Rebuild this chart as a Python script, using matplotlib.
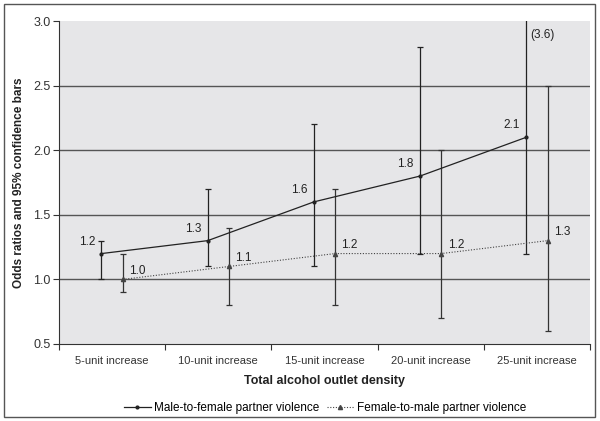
import matplotlib
matplotlib.use("Agg")
import matplotlib.pyplot as plt
import numpy as np
from matplotlib.patches import Rectangle

plt.rcParams['font.family'] = ['Liberation Sans', 'DejaVu Sans']

categories = ["5-unit increase", "10-unit increase", "15-unit increase", "20-unit increase", "25-unit increase"]
male_or = [1.2, 1.3, 1.6, 1.8, 2.1]
male_lo = [1.0, 1.1, 1.1, 1.2, 1.2]
male_hi = [1.3, 1.7, 2.2, 2.8, 3.6]
female_or = [1.0, 1.1, 1.2, 1.2, 1.3]
female_lo = [0.9, 0.8, 0.8, 0.7, 0.6]
female_hi = [1.2, 1.4, 1.7, 2.0, 2.5]
male_label = "Male-to-female partner violence"
female_label = "Female-to-male partner violence"

fig = plt.figure(figsize=(6.0, 4.21), dpi=100)
fig.patches.append(Rectangle((4/600, 4/421), 591/600, 413/421, transform=fig.transFigure,
                             fill=False, edgecolor='#555555', linewidth=1.0))
ax = fig.add_axes([59/600, 77/421, 531/600, 323/421])
ax.set_facecolor('#e6e6e8')

x = np.arange(len(categories))
xm = x - 0.1
xf = x + 0.1
ax.set_xlim(-0.5, len(categories) - 0.5)
ax.set_ylim(0.5, 3.0)

for yv in [1.0, 1.5, 2.0, 2.5]:
    ax.axhline(yv, color='#555555', linewidth=1.0, zorder=1)

dark = '#222222'
m = np.array(male_or); f = np.array(female_or)
ax.errorbar(xm, m, yerr=[m - np.array(male_lo), np.array(male_hi) - m], fmt='none',
            ecolor=dark, elinewidth=0.9, capsize=2.5, capthick=0.9, zorder=2)
ax.errorbar(xf, f, yerr=[f - np.array(female_lo), np.array(female_hi) - f], fmt='none',
            ecolor='#333333', elinewidth=0.9, capsize=2.5, capthick=0.9, zorder=2)
ax.plot(xm, m, color=dark, linewidth=0.9, marker='o', markersize=2, label=male_label, zorder=3)
ax.plot(xf, f, color='#444444', linewidth=0.8, linestyle=(0, (1, 1.5)), marker='^', markersize=3,
        label=female_label, zorder=3)

for xi, v in zip(xm, male_or):
    ax.text(xi - 0.06, v + 0.045, f"{v:.1f}", ha='right', va='bottom', fontsize=8.5, color='#222222')
for xi, v in zip(xf, female_or):
    ax.text(xi + 0.06, v + 0.02, f"{v:.1f}", ha='left', va='bottom', fontsize=8.5, color='#222222')
ax.text(xm[-1] + 0.04, 2.94, f"({male_hi[-1]:.1f})", ha='left', va='top', fontsize=8.5, color='#222222')

ax.set_yticks([0.5, 1.0, 1.5, 2.0, 2.5, 3.0])
ax.set_yticklabels([f"{v:.1f}" for v in [0.5, 1.0, 1.5, 2.0, 2.5, 3.0]], fontsize=9, color='#333333')
ax.set_xticks(np.arange(len(categories) + 1) - 0.5, minor=False)
ax.set_xticklabels([])
ax.set_xticks(x, minor=True)
ax.set_xticklabels(categories, minor=True, fontsize=8, color='#333333')
ax.tick_params(axis='x', which='minor', length=0, pad=9)
ax.tick_params(axis='x', which='major', length=4, direction='out', color='#333333')
ax.tick_params(axis='y', length=4, direction='out', color='#333333', pad=2)

for s in ['top', 'right']:
    ax.spines[s].set_visible(False)
ax.spines['left'].set_color('#333333')
ax.spines['bottom'].set_color('#333333')

ax.set_xlabel("Total alcohol outlet density", fontsize=9, fontweight='bold', color='#222222', labelpad=6)
ax.set_ylabel("Odds ratios and 95% confidence bars", fontsize=8.5, fontweight='bold', color='#222222', labelpad=6)

leg = fig.legend(loc='center', bbox_to_anchor=(325/600, 13/421), ncol=2, frameon=False, fontsize=8.5,
                 handlelength=2.3, columnspacing=0.6, handletextpad=0.3)
fig.savefig("out.png", dpi=100)
